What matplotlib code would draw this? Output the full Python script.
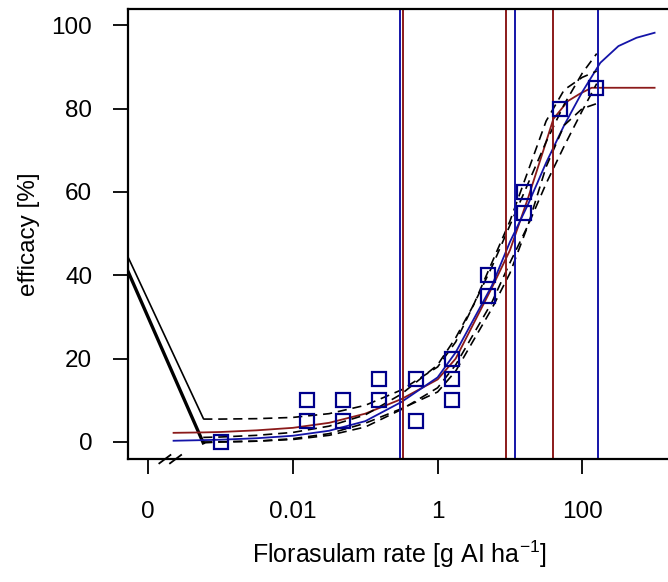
import matplotlib
matplotlib.use("Agg")
import matplotlib.pyplot as plt
import numpy as np

plt.rcParams["font.family"] = ["Liberation Sans", "DejaVu Sans"]
plt.rcParams["mathtext.default"] = "regular"

RED = "#8b1a1a"
BLUE = "#1414a8"
NAVY = "#00008b"

# observed data
dose = [0.001, 0.0156, 0.0156, 0.05, 0.05, 0.156, 0.156, 0.5, 0.5,
        1.56, 1.56, 1.56, 5, 5, 15.6, 15.6, 50, 156]
efficacy = [0, 10, 5, 10, 5, 15, 10, 15, 5, 20, 15, 10, 40, 35, 60, 55, 80, 85]

# fitted curves (log10 dose grid)
curve_logdose = [-3.65, -3.24, -3.0, -2.5, -2.0, -1.5, -1.0, -0.5, 0.0, 0.25,
                 0.5, 0.75, 1.0, 1.25, 1.5, 1.75, 2.0, 2.25, 2.5, 2.75, 3.0]
blue_fit = [0.3, 0.45, 0.55, 0.9, 1.5, 2.7, 5.0, 9.6, 15.5, 21.5,
            29.5, 37.5, 48.0, 57.0, 67.0, 76.0, 84.0, 91.0, 95.0, 97.0, 98.2]

red_logdose = [-3.65, -3.24, -3.0, -2.5, -2.0, -1.5, -1.0, -0.5, 0.0, 0.25,
               0.5, 0.75, 1.0, 1.25, 1.5, 1.6, 1.8, 1.97, 2.13, 3.0]
red_fit = [2.2, 2.3, 2.4, 2.8, 3.4, 4.6, 6.8, 10.3, 15.0, 20.0,
           28.5, 37.0, 46.0, 58.5, 72.0, 77.5, 81.8, 83.6, 85.0, 85.0]

# confidence bands (log10 dose grid)
ci_logdose = [-3.24, -3.0, -2.5, -2.0, -1.5, -1.0, -0.5, 0.0, 0.25, 0.5,
              0.75, 1.0, 1.25, 1.5, 1.75, 2.0, 2.2]
red_upper = [5.5, 5.5, 5.6, 5.9, 6.8, 8.8, 12.5, 18.0, 24.0, 33.0,
             43.0, 53.0, 65.0, 77.0, 84.5, 87.5, 89.0]
red_lower = [-0.2, 0.0, 0.2, 0.8, 2.0, 4.5, 8.0, 12.0, 17.0, 24.5,
             32.0, 40.5, 52.0, 66.0, 76.0, 80.0, 81.2]
blue_upper = [1.1, 1.2, 1.6, 2.3, 3.8, 6.5, 11.5, 18.5, 25.0, 33.0,
              42.0, 52.0, 62.0, 72.0, 81.0, 88.5, 93.2]
blue_lower = [0.0, 0.05, 0.2, 0.6, 1.6, 3.6, 7.8, 13.0, 18.5, 26.0,
              33.5, 43.0, 52.0, 62.0, 71.0, 79.5, 86.0]

# solid segments running in from dose zero
zero_logdose = [-4.6, -3.24]
zero_thin = [56.3, 5.7]
zero_thick = [53.6, -0.2]

# effective doses (ED10, ED50, ED90)
ed_red = [0.333, 8.77, 39.4]
ed_blue = [0.307, 11.6, 164]

xticks = [1e-4, 1e-2, 1, 100]
xtick_labels = ["0", "0.01", "1", "100"]
yticks = [0, 20, 40, 60, 80, 100]

fig = plt.figure(figsize=(6.68, 5.82), dpi=100)
ax = fig.add_axes([128 / 668, 1 - 459 / 582, 542 / 668, 450 / 582])

ax.plot(10 ** np.array(zero_logdose), zero_thin, color="black", lw=1.2)
ax.plot(10 ** np.array(zero_logdose), zero_thick, color="black", lw=2.4)

ax.plot(10 ** np.array(red_logdose), red_fit, color=RED, lw=1.3)
ax.plot(10 ** np.array(curve_logdose), blue_fit, color=BLUE, lw=1.3)

dash = (0, (5.5, 3.5))
for band in (red_upper, red_lower, blue_upper, blue_lower):
    ax.plot(10 ** np.array(ci_logdose), band, color="black", lw=1.2, linestyle=dash)

for d in ed_red:
    ax.axvline(d, color=RED, lw=1.4)
for d in ed_blue:
    ax.axvline(d, color=BLUE, lw=1.4)

ax.plot(dose, efficacy, linestyle="none", marker="s", markersize=9.5,
        markerfacecolor="none", markeredgecolor=NAVY, markeredgewidth=1.6, zorder=5)

ax.set_xscale("log")
ax.set_xlim(10 ** -4.28, 10 ** 3.213)
ax.set_ylim(-4.08, 103.9)
ax.set_xticks(xticks)
ax.set_xticklabels(xtick_labels)
ax.minorticks_off()
ax.set_yticks(yticks)

for s in ax.spines.values():
    s.set_linewidth(1.6)
ax.tick_params(axis="x", length=10.5, width=1.3, pad=20, labelsize=17.5)
ax.tick_params(axis="y", length=10.8, width=1.3, pad=15, labelsize=17.5)

ax.set_xlabel(r"Florasulam rate [g AI ha$^{-1}$]", fontsize=18, labelpad=11)
ax.set_ylabel("efficacy [%]", fontsize=17.5, labelpad=8)

# axis break marks
for x0 in (0.0578, 0.0775):
    ax.plot([x0, x0 + 0.0205], [-0.0096, 0.0089], transform=ax.transAxes,
            color="black", lw=1.3, clip_on=False)

fig.savefig("out.png", dpi=100)
